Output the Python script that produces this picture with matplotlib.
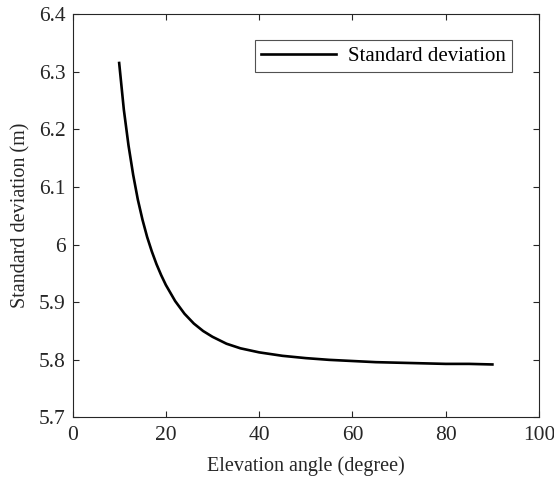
import matplotlib
matplotlib.use('Agg')
import matplotlib.pyplot as plt
import numpy as np

# values
elevation = [10, 11, 12, 13, 14, 15, 16, 17, 18, 19, 20, 22, 24, 26, 28, 30,
             33, 36, 40, 45, 50, 55, 60, 65, 70, 75, 80, 85, 90]
std_dev = [6.315, 6.234, 6.172, 6.121, 6.078, 6.043, 6.013, 5.988, 5.966, 5.947,
           5.930, 5.902, 5.880, 5.863, 5.850, 5.840, 5.828, 5.820, 5.813, 5.807,
           5.803, 5.800, 5.798, 5.796, 5.795, 5.794, 5.793, 5.793, 5.792]

plt.rcParams['font.family'] = 'Liberation Serif'

fig = plt.figure(figsize=(5.54, 4.79), dpi=100)
ax = fig.add_axes([0.1309, 0.1284, 0.8421, 0.8424])

ax.plot(elevation, std_dev, 'k-', lw=1.9, label='Standard deviation')

ax.set_xlim(0, 100)
ax.set_ylim(5.7, 6.4)
ax.set_xticks(np.arange(0, 101, 20))
ax.set_yticks([5.7, 5.8, 5.9, 6.0, 6.1, 6.2, 6.3, 6.4])
ax.set_yticklabels(['5.7', '5.8', '5.9', '6', '6.1', '6.2', '6.3', '6.4'])
ax.tick_params(direction='in', top=True, right=True, length=4, width=0.8,
               colors='#262626', labelsize=15.5, labelcolor='#262626')
ax.tick_params(axis='x', pad=6)
ax.tick_params(axis='y', pad=5)
for s in ax.spines.values():
    s.set_color('#262626')
    s.set_linewidth(0.8)

ax.set_xlabel('Elevation angle (degree)', fontsize=14.5, color='#262626', labelpad=8)
ax.set_ylabel('Standard deviation (m)', fontsize=14.5, color='#262626', labelpad=6)

leg = ax.legend(loc='upper right', bbox_to_anchor=(0.942, 0.9356), fancybox=False,
                edgecolor='#262626', handlelength=3.6, fontsize=15,
                borderpad=0.3, borderaxespad=0, handletextpad=0.55)
leg.get_frame().set_linewidth(0.8)

fig.savefig('out.png', dpi=100)
